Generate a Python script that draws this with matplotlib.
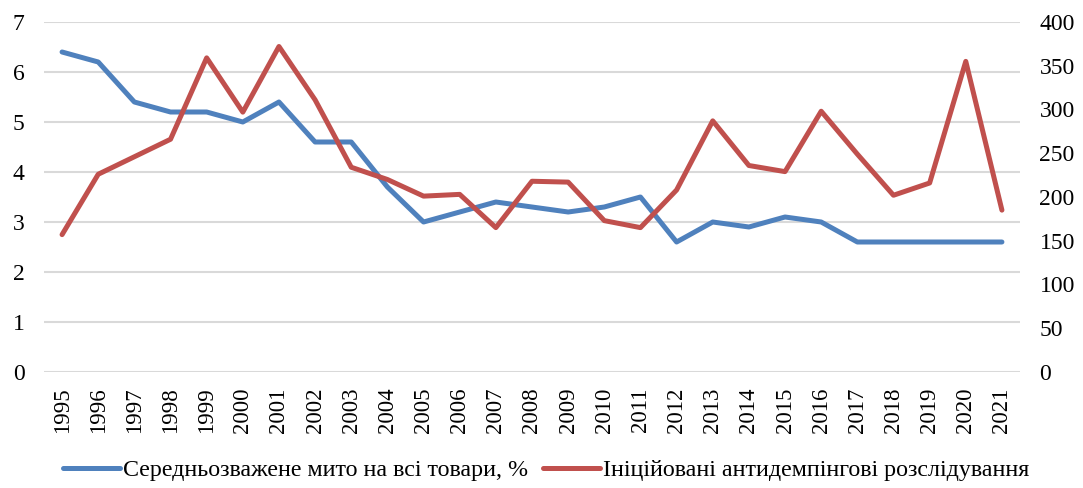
import matplotlib
matplotlib.use("Agg")
import matplotlib.pyplot as plt

years = [str(y) for y in range(1995, 2022)]
tariff = [6.4, 6.2, 5.4, 5.2, 5.2, 5.0, 5.4, 4.6, 4.6, 3.7, 3.0, 3.2, 3.4, 3.3,
          3.2, 3.3, 3.5, 2.6, 3.0, 2.9, 3.1, 3.0, 2.6, 2.6, 2.6, 2.6, 2.6]
antidumping = [157, 226, 246, 266, 359, 297, 372, 311, 234, 220, 201, 203, 165, 218,
               217, 173, 165, 208, 287, 236, 229, 298, 249, 202, 216, 355, 185]
label_tariff = "Середньозважене мито на всі товари, %"
label_ad = "Ініційовані антидемпінгові розслідування"

plt.rcParams['font.family'] = ['Liberation Serif', 'DejaVu Serif']

fig = plt.figure(figsize=(10.83, 4.88), dpi=100)
ax = fig.add_axes([44/1083, 1-372/488, (1020-44)/1083, 350/488])
ax2 = ax.twinx()

x = list(range(len(years)))
blue = '#4f81bd'
red = '#c0504d'

ax.set_ylim(0, 7)
ax.set_yticks(range(0, 8))
ax2.set_ylim(0, 400)
ax2.set_yticks(range(0, 401, 50))
ax.set_xlim(-0.5, len(years) - 0.5)
ax.grid(axis='y', color='#d9d9d9', linewidth=1.5)
ax.set_axisbelow(True)

l1, = ax.plot(x, tariff, color=blue, linewidth=3.6, solid_capstyle='round', solid_joinstyle='round', zorder=3)
l2, = ax2.plot(x, antidumping, color=red, linewidth=3.6, solid_capstyle='round', solid_joinstyle='round', zorder=3)

ax.set_xticks(x)
ax.set_xticklabels(years, rotation=90)
for a in (ax, ax2):
    for s in a.spines.values():
        s.set_visible(False)
ax.tick_params(axis='x', length=0, pad=11, labelsize=16.5)
ax.tick_params(axis='y', length=0, pad=14, labelsize=17)
ax2.tick_params(axis='y', length=0, pad=14, labelsize=17)

fig.legend([l1, l2], [label_tariff, label_ad], loc='center', bbox_to_anchor=(546/1083, 1-470/488),
           ncol=2, frameon=False, fontsize=17.3, handlelength=2.4, handletextpad=0.12,
           columnspacing=0.6)

fig.savefig('out.png', dpi=100)
